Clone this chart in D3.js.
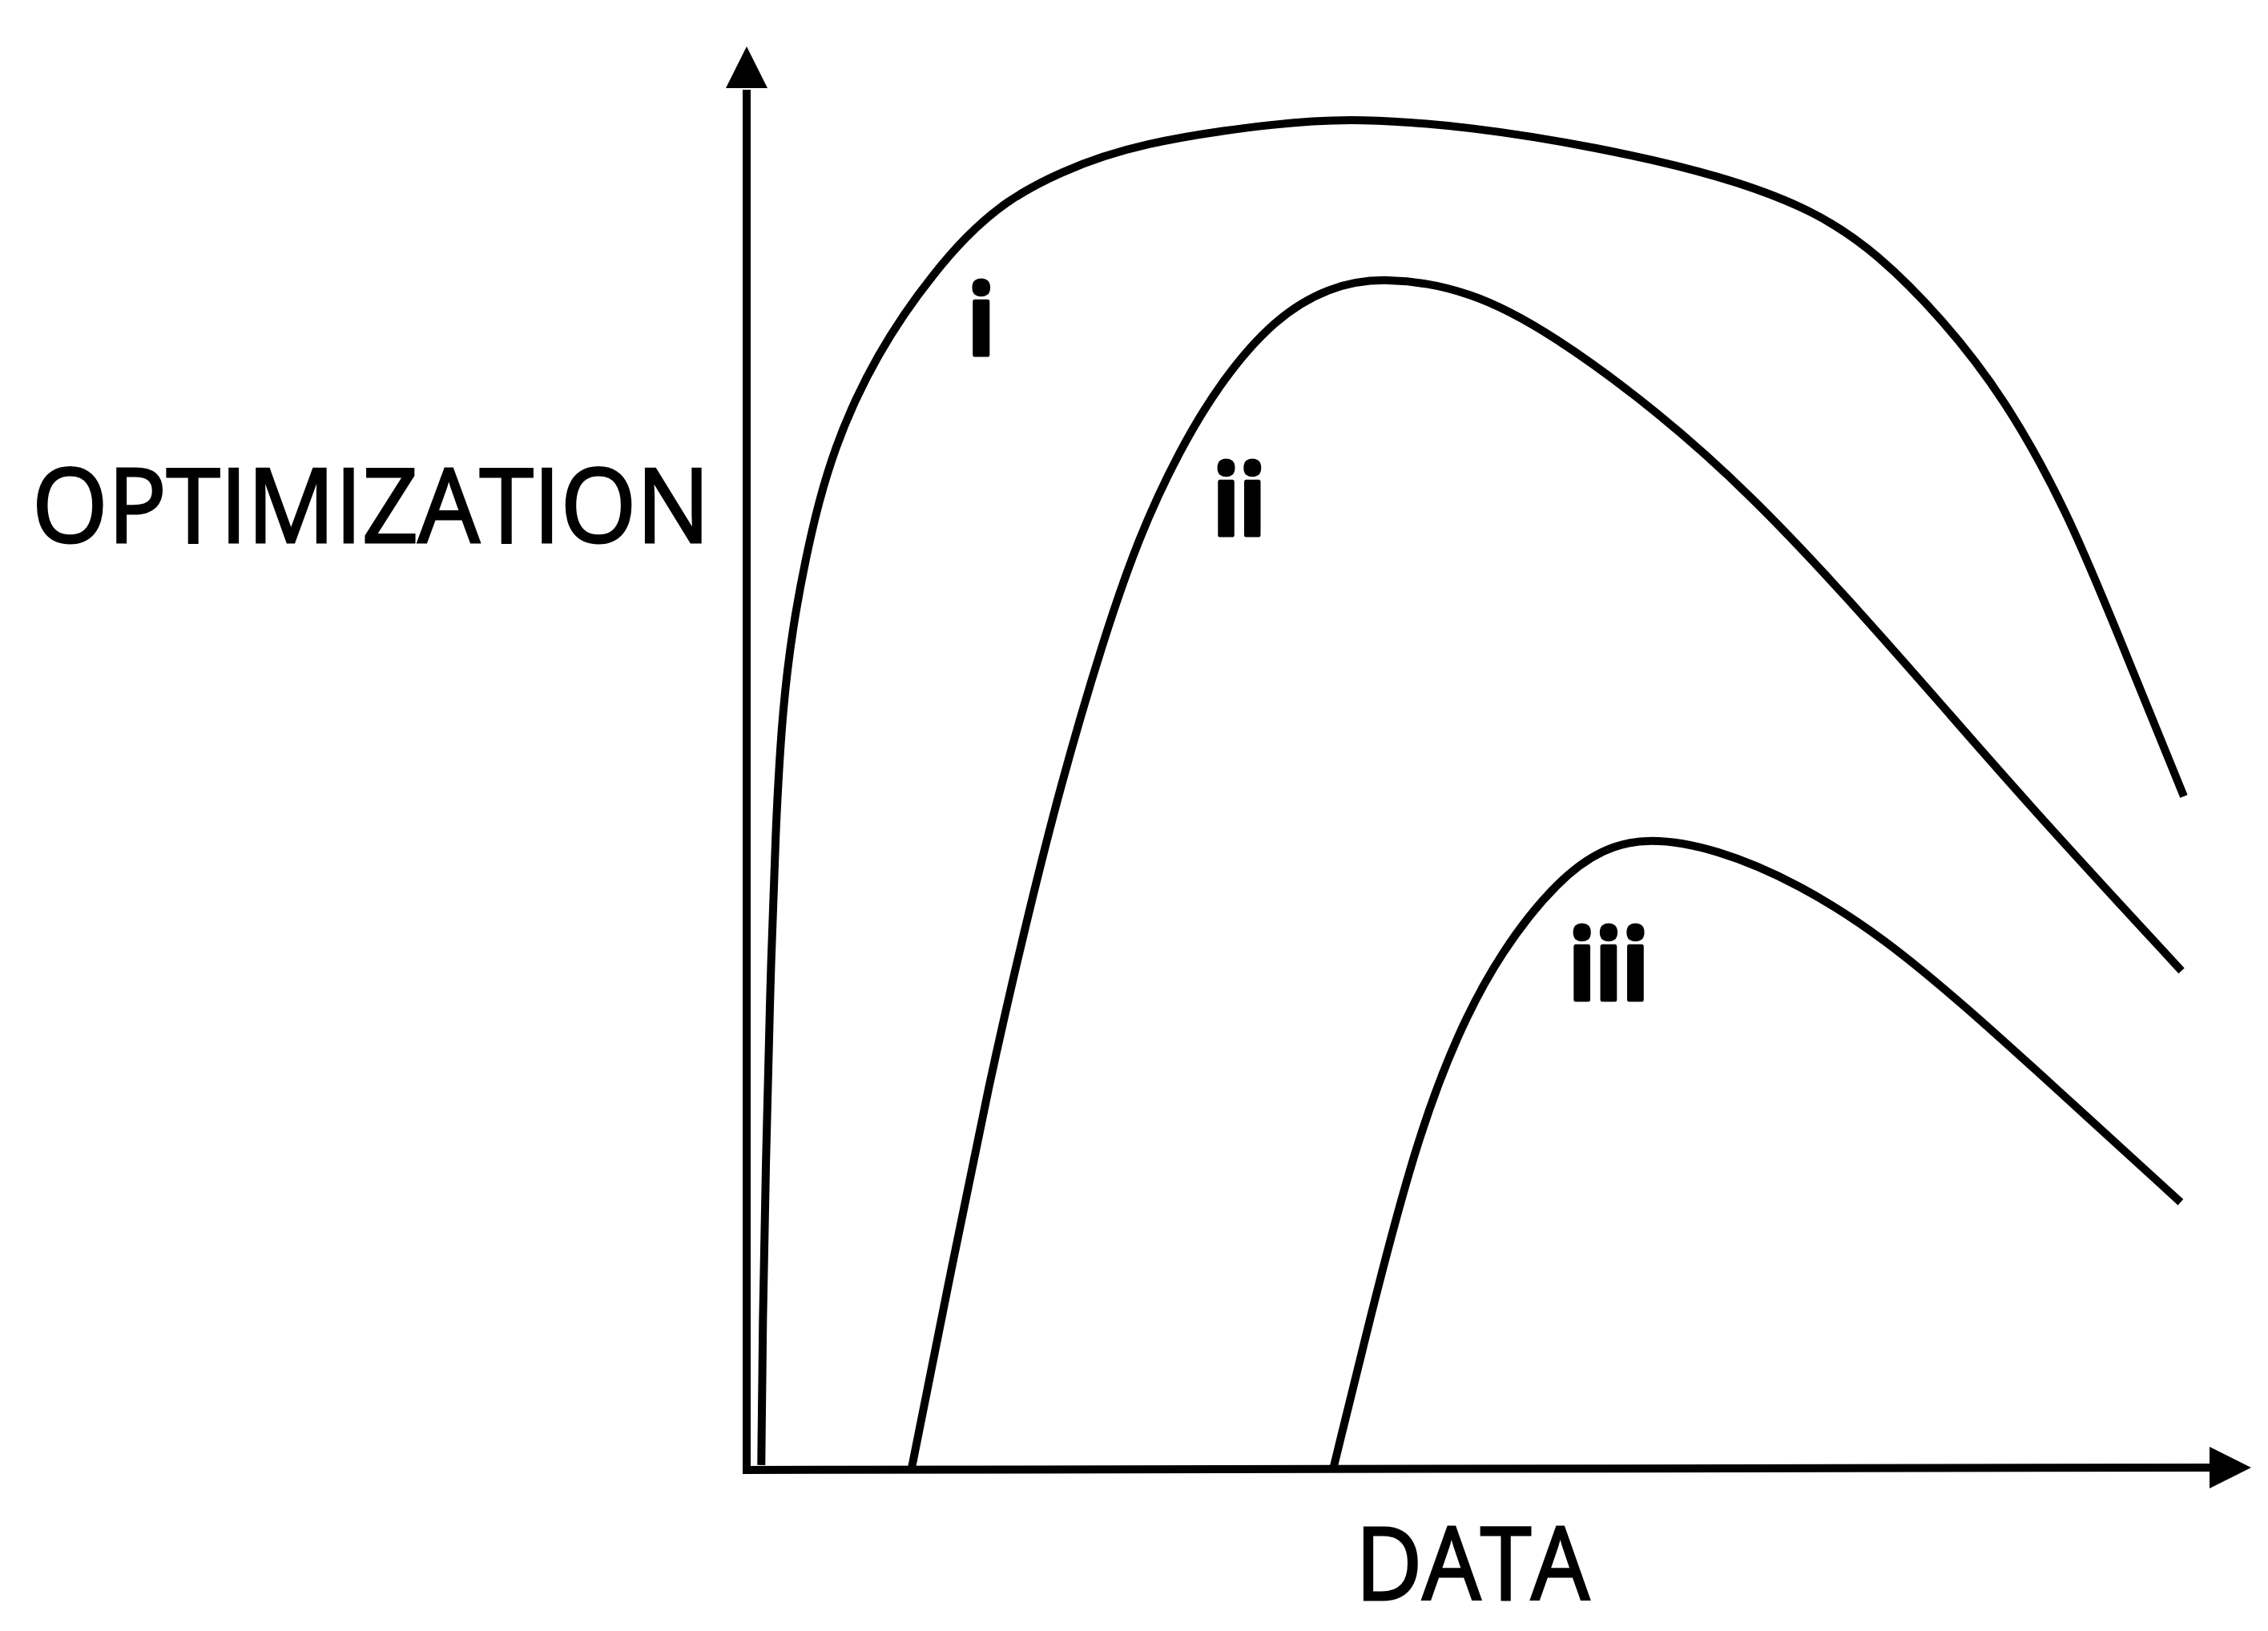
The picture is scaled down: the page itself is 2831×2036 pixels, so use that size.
<!DOCTYPE html>
<html>
<head>
<meta charset="utf-8">
<script src="https://cdn.jsdelivr.net/npm/d3@7"></script>
<style>
  html, body { margin: 0; padding: 0; background: #ffffff; }
  svg { display: block; }
</style>
</head>
<body>
<svg id="chart" width="2831" height="2036"></svg>
<script>
// ---------- data (abstract units: DATA 0..100, OPTIMIZATION 0..100) ----------
const seriesNames = ["i", "ii", "iii"];

const curveI = [
  [1.0, 0.3], [1.09, 10.8], [1.31, 22.6], [1.58, 34.4], [1.97, 47.3],
  [2.46, 56.1], [3.17, 62.0], [3.99, 66.7], [4.92, 71.1], [6.07, 75.1],
  [7.43, 78.6], [8.96, 81.8], [10.71, 84.8], [12.62, 87.6], [14.92, 90.5],
  [17.65, 93.1], [21.20, 95.2], [26.67, 97.4], [36.50, 98.9], [41.64, 99.2],
  [49.34, 98.6], [57.92, 97.1], [66.50, 95.0], [72.95, 92.4], [77.21, 89.2],
  [81.53, 84.5], [85.79, 78.7], [90.11, 70.3], [93.50, 61.4], [98.03, 49.4]
];

const curveII = [
  [11.26, 0.1], [14.04, 15.1], [16.50, 28.2], [18.96, 39.7], [21.37, 50.1],
  [24.32, 60.9], [26.72, 68.4], [29.45, 74.7], [32.35, 79.9], [36.01, 84.5],
  [39.67, 86.8], [43.39, 87.6], [49.34, 86.6], [54.92, 83.4], [62.24, 77.6],
  [68.63, 71.4], [75.08, 64.0], [81.53, 56.1], [87.92, 48.2], [97.87, 36.6]
];

const curveIII = [
  [40.05, 0.2], [43.06, 13.5], [45.74, 24.2], [48.42, 31.9], [51.48, 38.1],
  [55.36, 43.3], [58.42, 45.6], [61.48, 46.4], [66.07, 45.6], [71.80, 43.0],
  [77.60, 39.0], [83.33, 33.8], [89.07, 28.2], [97.81, 19.6]
];

// label anchor positions (data units, centre / baseline)
const labelPos = [[16.0, 81.8], [33.6, 68.6], [58.8, 34.5]];

const xLabel = "DATA";
const yLabel = "OPTIMIZATION";

// ---------- layout ----------
const svg = d3.select("#chart");
svg.append("rect").attr("width", 2831).attr("height", 2036).attr("fill", "#fff");

const x = d3.scaleLinear().domain([0, 100]).range([932, 2762]);
const y = d3.scaleLinear().domain([0, 100]).range([1834, 134]);

const axisTopY = 108;      // where the y-axis line meets the arrowhead
const axisRightX = 2760;   // where the x-axis line meets the arrowhead

// axes lines
svg.append("line")
  .attr("x1", x(0)).attr("y1", y(0) + 5)
  .attr("x2", x(0)).attr("y2", axisTopY + 4)
  .attr("stroke", "#000").attr("stroke-width", 10);
svg.append("line")
  .attr("x1", x(0) - 5).attr("y1", y(0) + 1)
  .attr("x2", axisRightX + 4).attr("y2", y(0) - 2)
  .attr("stroke", "#000").attr("stroke-width", 10);

// arrowheads
svg.append("path")
  .attr("d", `M${x(0)},58 L${x(0) - 26},${axisTopY + 2} L${x(0) + 26},${axisTopY + 2} Z`)
  .attr("fill", "#000");
svg.append("path")
  .attr("d", `M2810,${y(0) - 2} L${axisRightX - 2},${y(0) - 28} L${axisRightX - 2},${y(0) + 24} Z`)
  .attr("fill", "#000");

// curves
const line = d3.line()
  .x(d => x(d[0]))
  .y(d => y(d[1]))
  .curve(d3.curveBasis);

[curveI, curveII, curveIII].forEach(c => {
  svg.append("path")
    .attr("d", line(c))
    .attr("fill", "none")
    .attr("stroke", "#000")
    .attr("stroke-width", 10)
    .attr("stroke-linecap", "butt")
    .attr("stroke-linejoin", "round");
});

// curve labels
const labelLens = [34, 66, 100];
seriesNames.forEach((name, i) => {
  svg.append("text")
    .attr("x", x(labelPos[i][0]))
    .attr("y", y(labelPos[i][1]))
    .attr("text-anchor", "middle")
    .attr("font-family", "'Open Sans', Lato, sans-serif")
    .attr("font-weight", "bold")
    .attr("font-size", 122)
    .attr("textLength", labelLens[i])
    .attr("lengthAdjust", "spacingAndGlyphs")
    .attr("fill", "#000")
    .attr("stroke", "#000")
    .attr("stroke-width", 5)
    .attr("stroke-linejoin", "round")
    .text(name);
});

// axis titles
svg.append("text")
  .attr("x", 40).attr("y", 677)
  .attr("font-family", "'Open Sans', Lato, sans-serif")
  .attr("font-size", 128)
  .attr("textLength", 846)
  .attr("lengthAdjust", "spacingAndGlyphs")
  .attr("fill", "#000")
  .attr("stroke", "#000")
  .attr("stroke-width", 3)
  .text(yLabel);

svg.append("text")
  .attr("x", 1692).attr("y", 1997)
  .attr("font-family", "'Open Sans', Lato, sans-serif")
  .attr("font-size", 126)
  .attr("textLength", 292)
  .attr("lengthAdjust", "spacingAndGlyphs")
  .attr("fill", "#000")
  .attr("stroke", "#000")
  .attr("stroke-width", 3)
  .text(xLabel);
</script>
</body>
</html>
